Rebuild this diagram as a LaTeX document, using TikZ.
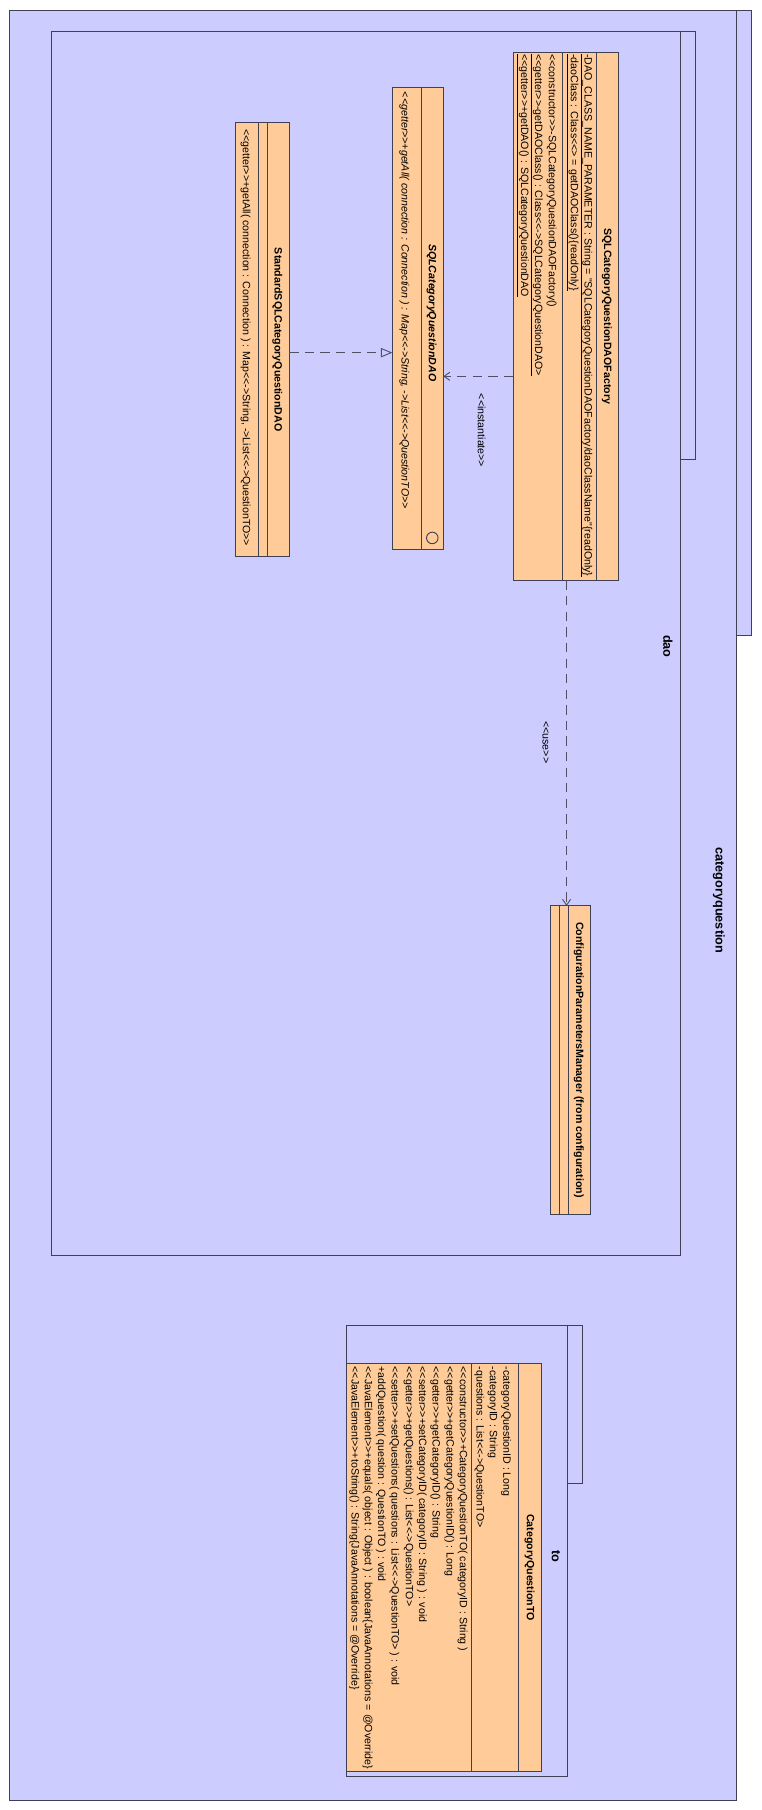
\documentclass[tikz,border=0pt]{standalone}
\usepackage{fontspec}
\setmainfont{Liberation Sans}[Ligatures=TeXOff]
\usetikzlibrary{arrows.meta}
\definecolor{pkg}{RGB}{204,204,255}
\definecolor{cls}{RGB}{255,204,153}
\definecolor{ln}{RGB}{64,64,84}
\definecolor{dl}{RGB}{80,80,100}
\begin{document}
\begin{tikzpicture}[x=1pt,y=-1pt,
  pkgbox/.style={draw=ln, fill=pkg, line width=0.9pt},
  clsbox/.style={draw=ln, fill=cls, line width=0.9pt, inner sep=0pt, outer sep=0pt},
  sepline/.style={draw=ln, line width=0.9pt},
  mem/.style={rotate=-90, anchor=base west, inner sep=0pt, outer sep=0pt, font=\fontsize{9.2}{11}\selectfont},
  cname/.style={rotate=-90, anchor=base, inner sep=0pt, font=\fontsize{9.2}{11}\selectfont\bfseries},
  pname/.style={rotate=-90, anchor=base, inner sep=0pt, font=\fontsize{11}{13}\selectfont\bfseries},
  lbl/.style={rotate=-90, anchor=base, inner sep=0pt, font=\fontsize{9.2}{11}\selectfont},
  dep/.style={draw=dl, line width=0.8pt, dash pattern=on 8pt off 5.5pt},
  vtip/.style={-{Straight Barb[length=5pt,width=7pt]}},
  rtip/.style={-{Triangle[open,length=10pt,width=8pt]}},
]
\useasboundingbox (0,0) rectangle (660,1568);
\fill[white] (0,0) rectangle (660,1568);

% packages
\path[pkgbox] (638,9.5) rectangle (651,550.3);
\path[pkgbox] (8.1,9.5) rectangle (638,1560);
\node[pname] (pcq) at (620,780) {categoryquestion};

\path[pkgbox] (589.6,27.4) rectangle (602.6,398);
\path[pkgbox] (44.8,27.4) rectangle (589.6,1088);
\node[pname] (pdao) at (574.7,560) {dao};

\path[pkgbox] (492,1148.6) rectangle (505,1285);
\path[pkgbox] (300,1148.6) rectangle (492,1539);
\node[pname] (pto) at (478,1348) {to};

% SQLCategoryQuestionDAOFactory
\node[clsbox, minimum width=91pt, minimum height=457.7pt] (factory) at (490,274.15) {};
\draw[sepline] (517,45.3) -- (517,503);
\draw[sepline] (487.4,45.3) -- (487.4,503);
\node[cname] (fname) at (523.3,274) {SQLCategoryQuestionDAOFactory};
\node[mem] (f1) at (506.5,47) {\underline{-DAO\_CLASS\_NAME\_PARAMETER : String = "SQLCategoryQuestionDAOFactory/daoClassName"\{readOnly\}}};
\node[mem] (f2) at (494.5,47) {\underline{-daoClass : Class<<> = getDAOClass()\{readOnly\}}};
\node[mem] (f3) at (475.5,47) {<<constructor>>-SQLCategoryQuestionDAOFactory()};
\node[mem] (f4) at (463.5,47) {\underline{<<getter>>-getDAOClass() : Class<<->SQLCategoryQuestionDAO>}};
\node[mem] (f5) at (451.5,47) {\underline{<<getter>>+getDAO() : SQLCategoryQuestionDAO}};

% SQLCategoryQuestionDAO (interface)
\node[clsbox, minimum width=44pt, minimum height=400.4pt] (iface) at (362,275.8) {};
\draw[sepline] (365,75.6) -- (365,476);
\node[cname, font=\fontsize{9.2}{11}\selectfont\bfseries\itshape] (iname) at (371.5,271) {SQLCategoryQuestionDAO};
\node[draw=ln, line width=0.8pt, circle, minimum size=10pt, inner sep=0pt] (isym) at (374.5,466) {};
\node[mem, font=\fontsize{9.2}{11}\selectfont\itshape] (i1) at (348,79.7) {<<getter>>+getAll( connection : Connection ) : Map<<->String, ->List<<->QuestionTO>>};

% StandardSQLCategoryQuestionDAO
\node[clsbox, minimum width=46.2pt, minimum height=375.9pt] (standard) at (227.5,294.25) {};
\draw[sepline] (231.6,106.3) -- (231.6,482.2);
\draw[sepline] (223.8,106.3) -- (223.8,482.2);
\node[cname] (sname) at (238,294.3) {StandardSQLCategoryQuestionDAO};
\node[mem] (s1) at (210.5,112) {<<getter>>+getAll( connection : Connection ) : Map<<->String, ->List<<->QuestionTO>>};

% ConfigurationParametersManager
\node[clsbox, minimum width=34.6pt, minimum height=267pt] (config) at (494.3,918.3) {};
\draw[sepline] (492.6,784.8) -- (492.6,1051.8);
\draw[sepline] (484.5,784.8) -- (484.5,1051.8);
\node[cname] (cname) at (499,918.3) {ConfigurationParametersManager (from configuration)};

% CategoryQuestionTO
\node[clsbox, minimum width=169.5pt, minimum height=354pt] (cqto) at (384.75,1358) {};
\draw[sepline] (449.5,1181) -- (449.5,1535);
\draw[sepline] (408.5,1181) -- (408.5,1535);
\node[cname] (tname) at (456.5,1358) {CategoryQuestionTO};
\node[mem] (ta1) at (436,1184) {-categoryQuestionID : Long};
\node[mem] (ta2) at (424.3,1184) {-categoryID : String};
\node[mem] (ta3) at (412.8,1184) {-questions : List<<->QuestionTO>};
\node[mem] (to1) at (398.3,1184) {<<constructor>>+CategoryQuestionTO( categoryID : String )};
\node[mem] (to2) at (386.8,1184) {<<getter>>+getCategoryQuestionID() : Long};
\node[mem] (to3) at (374.7,1184) {<<getter>>+getCategoryID() : String};
\node[mem] (to4) at (363.1,1184) {<<setter>>+setCategoryID( categoryID : String ) : void};
\node[mem] (to5) at (351.5,1184) {<<getter>>+getQuestions() : List<<->QuestionTO>};
\node[mem] (to6) at (339.2,1184) {<<setter>>+setQuestions( questions : List<<->QuestionTO> ) : void};
\node[mem] (to7) at (327.6,1184) {+addQuestion( question : QuestionTO ) : void};
\node[mem] (to8) at (316.0,1184) {<<JavaElement>>+equals( object : Object ) : boolean\{JavaAnnotations = @Override\}};
\node[mem] (to9) at (304.5,1184) {<<JavaElement>>+toString() : String\{JavaAnnotations = @Override\}};

% connectors
\coordinate (insy) at (0,326);
\draw[dep, vtip] (factory.west |- insy) -- (iface.east |- insy);
\node[lbl] (inslbl) at (414,373) {<<instantiate>>};

\coordinate (usex) at (490.8,0);
\draw[dep, vtip] (factory.south -| usex) -- (config.north -| usex);
\node[lbl] (uselbl) at (470,643) {<<use>>};

\coordinate (realy) at (0,305.5);
\draw[dep, rtip] (standard.east |- realy) -- (iface.west |- realy);
\end{tikzpicture}
\end{document}
